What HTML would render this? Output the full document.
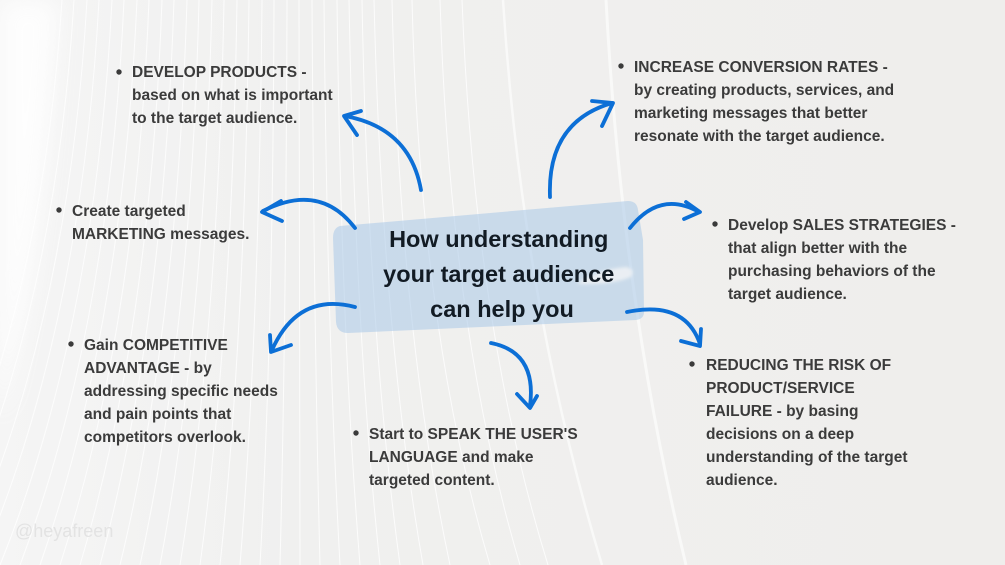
<!DOCTYPE html>
<html>
<head>
<meta charset="utf-8">
<style>
html,body{margin:0;padding:0;width:1005px;height:565px;overflow:hidden;background:#efeeed;}
svg{display:block;}
.t{font-family:"Liberation Sans",Arial,sans-serif;font-weight:bold;font-size:15.5px;fill:#3b3b3b;}
.h{font-family:"Liberation Sans",Arial,sans-serif;font-weight:bold;font-size:23.5px;fill:#121b24;}
.a{fill:none;stroke:#0c6fd6;stroke-width:3.8;stroke-linecap:round;stroke-linejoin:round;}
.l{fill:none;stroke:#ffffff;stroke-width:1;opacity:0.8;}
</style>
</head>
<body>
<svg width="1005" height="565" viewBox="0 0 1005 565" xmlns="http://www.w3.org/2000/svg">
<defs>
<linearGradient id="bg" x1="0" y1="0" x2="1" y2="0">
<stop offset="0" stop-color="#f5f5f5"/>
<stop offset="0.3" stop-color="#f0f0ef"/>
<stop offset="1" stop-color="#efeeec"/>
</linearGradient>
<filter id="blur" x="-50%" y="-50%" width="200%" height="200%"><feGaussianBlur stdDeviation="12"/></filter>
<filter id="blur2" x="-20%" y="-50%" width="140%" height="200%"><feGaussianBlur stdDeviation="1.5"/></filter>
</defs>
<rect width="1005" height="565" fill="url(#bg)"/>
<!-- left white flare -->
<path d="M0,0 L58,0 Q46,260 0,420 Z" fill="#ffffff" opacity="0.85" filter="url(#blur)"/>
<!-- background line fan -->
<g class="l">
<path d="M62,0 Q41,330 -80,565"/>
<path d="M74,0 Q54,330 -60,565"/>
<path d="M87,0 Q68,330 -40,565"/>
<path d="M99,0 Q81,330 -20,565"/>
<path d="M112,0 Q95,330 0,565"/>
<path d="M124,0 Q109,330 20,565"/>
<path d="M137,0 Q122,330 40,565"/>
<path d="M149,0 Q136,330 60,565"/>
<path d="M162,0 Q150,330 80,565"/>
<path d="M174,0 Q163,330 100,565"/>
<path d="M187,0 Q177,330 120,565"/>
<path d="M199,0 Q191,330 140,565"/>
<path d="M212,0 Q204,330 160,565"/>
<path d="M224,0 Q218,330 180,565"/>
<path d="M237,0 Q232,330 200,565"/>
<path d="M249,0 Q245,330 220,565"/>
<path d="M262,0 Q259,330 240,565"/>
<path d="M274,0 Q273,330 260,565"/>
<path d="M287,0 Q286,330 280,565"/>
<path d="M299,0 Q300,330 300,565"/>
<path d="M312,0 Q314,330 320,565"/>
<path d="M324,0 Q327,330 340,565"/>
<path d="M337,0 Q341,330 360,565"/>
<path d="M349,0 Q355,330 380,565"/>
<path d="M362,0 Q368,330 400,565"/>
<path d="M374,0 Q382,330 423,565"/>
<path d="M392,0 Q400,330 450,565"/>
<path d="M412,0 Q420,330 490,565"/>
<path d="M440,0 Q450,330 520,565"/>
<path d="M462,0 Q475,330 548,565"/>
</g>
<path d="M503,0 Q522,300 602,565" fill="none" stroke="#ffffff" stroke-width="2.5" opacity="0.6"/>
<path d="M606,0 Q622,300 686,565" fill="none" stroke="#ffffff" stroke-width="3" opacity="0.6"/>

<!-- center box -->
<path d="M340,226 L628,201 Q637,201 638,210 L643,240 L644,312 Q644,319 636,320 L348,333 Q337,333 336,322 L333,238 Q333,228 340,226 Z" fill="#a9c9e8" opacity="0.55"/>
<path d="M578,283 Q596,270 626,267 Q636,269 631,277 Q612,285 578,284 Z" fill="#eef1f4" opacity="0.9" filter="url(#blur2)"/>

<!-- title -->
<text class="h" text-anchor="middle">
<tspan x="502" y="247">How understanding</tspan>
<tspan x="502" y="282">your target audience</tspan>
<tspan x="502" y="317">can help you</tspan>
</text>

<!-- arrows -->
<path class="a" d="M421,190 Q410,128 345,116"/>
<polyline class="a" points="361,111 344,116 357,135"/>

<path class="a" d="M355,228 Q320,182 263,211"/>
<polyline class="a" points="281,201 262,212 282,221"/>

<path class="a" d="M550,197 Q547,122 612,103"/>
<polyline class="a" points="592,101 613,103 602,126"/>

<path class="a" d="M630,228 Q660,190 699,212"/>
<polyline class="a" points="686,202 700,212 684,219"/>

<path class="a" d="M627,312 Q685,300 700,344"/>
<polyline class="a" points="681,341 700,346 701,329"/>

<path class="a" d="M491,343 Q537,352 530,406"/>
<polyline class="a" points="517,394 530,408 537,396"/>

<path class="a" d="M355,307 Q298,292 272,350"/>
<polyline class="a" points="270,335 271,352 291,345"/>

<!-- bullets -->
<g fill="#3b3b3b">
<circle cx="119" cy="72" r="2.7"/>
<circle cx="59" cy="210" r="2.7"/>
<circle cx="621" cy="66" r="2.7"/>
<circle cx="715" cy="224" r="2.7"/>
<circle cx="71" cy="344" r="2.7"/>
<circle cx="356" cy="433" r="2.7"/>
<circle cx="692" cy="364" r="2.7"/>
</g>

<!-- text blocks -->
<text class="t">
<tspan x="132" y="77">DEVELOP PRODUCTS -</tspan>
<tspan x="132" y="100">based on what is important</tspan>
<tspan x="132" y="123">to the target audience.</tspan>
</text>

<text class="t">
<tspan x="72" y="216">Create targeted</tspan>
<tspan x="72" y="239">MARKETING messages.</tspan>
</text>

<text class="t">
<tspan x="634" y="72">INCREASE CONVERSION RATES -</tspan>
<tspan x="634" y="95">by creating products, services, and</tspan>
<tspan x="634" y="118">marketing messages that better</tspan>
<tspan x="634" y="141">resonate with the target audience.</tspan>
</text>

<text class="t">
<tspan x="728" y="230">Develop SALES STRATEGIES -</tspan>
<tspan x="728" y="253">that align better with the</tspan>
<tspan x="728" y="276">purchasing behaviors of the</tspan>
<tspan x="728" y="299">target audience.</tspan>
</text>

<text class="t">
<tspan x="84" y="350">Gain COMPETITIVE</tspan>
<tspan x="84" y="373">ADVANTAGE - by</tspan>
<tspan x="84" y="396">addressing specific needs</tspan>
<tspan x="84" y="419">and pain points that</tspan>
<tspan x="84" y="442">competitors overlook.</tspan>
</text>

<text class="t">
<tspan x="369" y="439">Start to SPEAK THE USER'S</tspan>
<tspan x="369" y="462">LANGUAGE and make</tspan>
<tspan x="369" y="485">targeted content.</tspan>
</text>

<text class="t">
<tspan x="706" y="370">REDUCING THE RISK OF</tspan>
<tspan x="706" y="393">PRODUCT/SERVICE</tspan>
<tspan x="706" y="416">FAILURE - by basing</tspan>
<tspan x="706" y="439">decisions on a deep</tspan>
<tspan x="706" y="462">understanding of the target</tspan>
<tspan x="706" y="485">audience.</tspan>
</text>

<text x="15" y="537" font-family="Liberation Sans, Arial, sans-serif" font-size="18" fill="#e3e3e3">@heyafreen</text>
</svg>
</body>
</html>
